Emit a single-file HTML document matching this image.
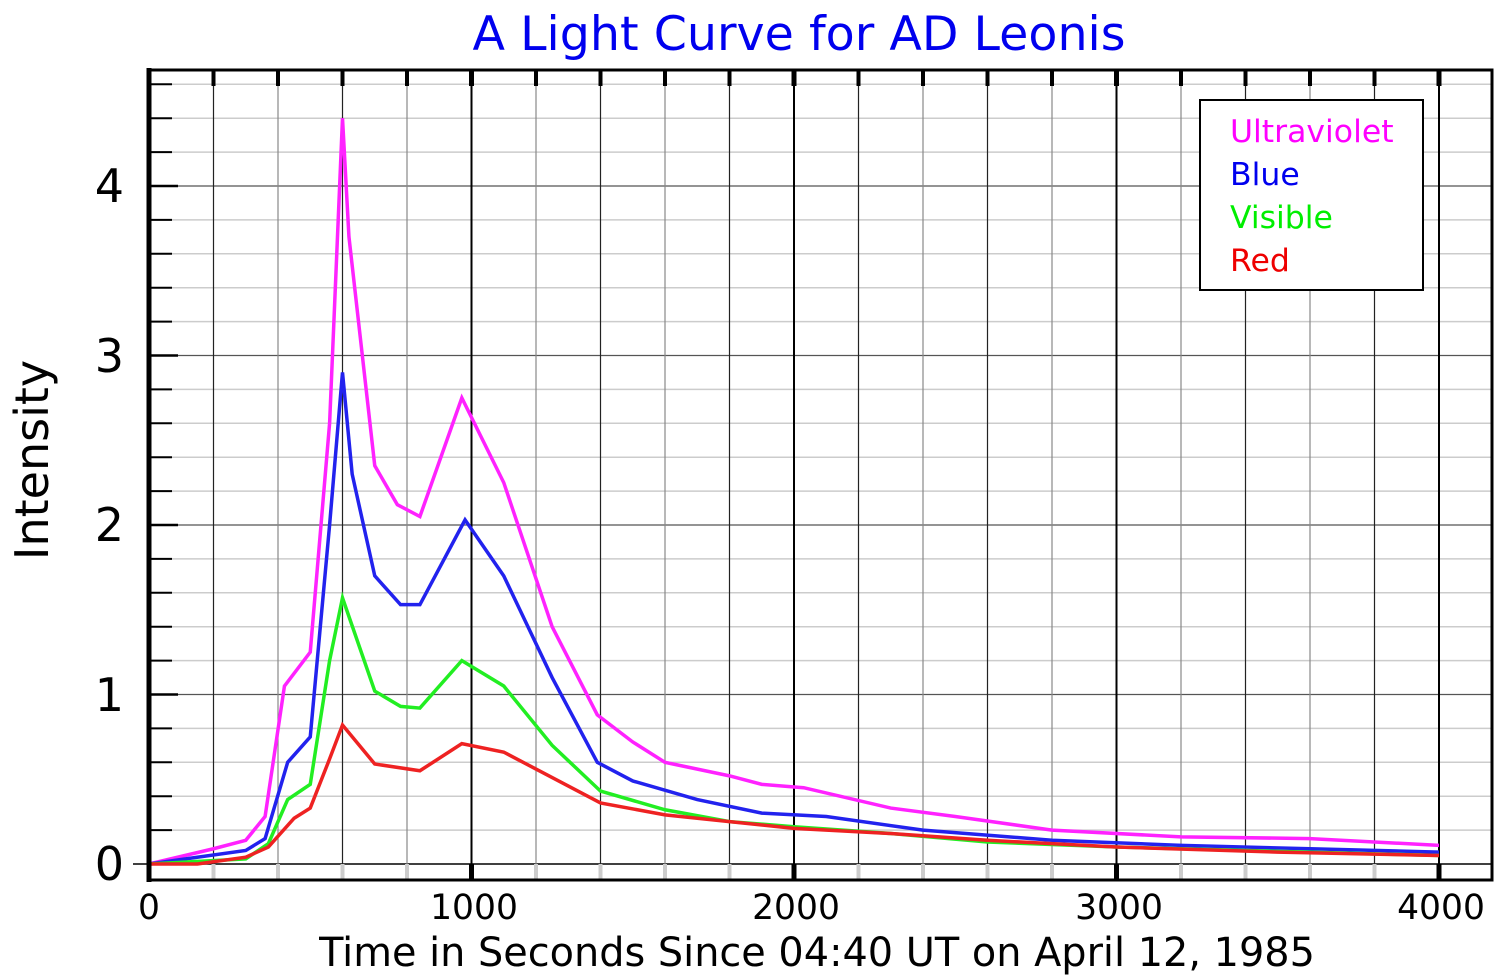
<!DOCTYPE html>
<html><head><meta charset="utf-8"><style>body{margin:0;background:#fff}svg{display:block}</style></head>
<body>
<svg id="s" width="1500" height="975" xmlns="http://www.w3.org/2000/svg" font-family="DejaVu Sans, Liberation Sans, sans-serif">
<text x="799" y="50" font-size="47.5" fill="#0000ee" text-anchor="middle">A Light Curve for AD Leonis</text>
<g id="grid"></g>
<g id="data" fill="none" stroke-width="3.5"></g>
<rect x="149" y="70" width="1343" height="810" fill="none" stroke="#000" stroke-width="3"/>
<line x1="149" y1="68" x2="149" y2="882" stroke="#000" stroke-width="5"/>
<rect x="1200" y="100" width="223" height="190" fill="#fff" stroke="#000" stroke-width="2"/>
<g font-size="31.5">
<text x="1230" y="142" fill="#ff00ff">Ultraviolet</text>
<text x="1230" y="185" fill="#0000ee">Blue</text>
<text x="1230" y="228" fill="#00ee00">Visible</text>
<text x="1230" y="271" fill="#ee0000">Red</text>
</g>
<g font-size="46" text-anchor="end" fill="#000">
<text x="124" y="880">0</text><text x="124" y="711">1</text><text x="124" y="541">2</text><text x="124" y="372">3</text><text x="124" y="202">4</text>
</g>
<g font-size="34.5" text-anchor="middle" fill="#000">
<text x="149" y="919">0</text><text x="474" y="919">1000</text><text x="796" y="919">2000</text><text x="1119" y="919">3000</text><text x="1441" y="919">4000</text>
</g>
<text x="817" y="966" font-size="39.8" text-anchor="middle">Time in Seconds Since 04:40 UT on April 12, 1985</text>
<text transform="translate(48,460) rotate(-90)" font-size="46" text-anchor="middle">Intensity</text>
</svg>
<script>
var X=t=>149+0.3225*t, Y=v=>864-169.5*v, NS="http://www.w3.org/2000/svg";
function el(p,n,a){var e=document.createElementNS(NS,n);for(var k in a)e.setAttribute(k,a[k]);p.appendChild(e);return e;}
var g=document.getElementById('grid');
for(var i=1;i<=23;i++){var v=i*0.2;if(Math.abs(v-Math.round(v))<1e-6)continue;el(g,'line',{x1:149,x2:1492,y1:Y(v),y2:Y(v),stroke:'#ccc','stroke-width':1.5});
el(g,'line',{x1:149,x2:172,y1:Y(v),y2:Y(v),stroke:'#000','stroke-width':2});}
for(var v=1;v<=4;v++){el(g,'line',{x1:149,x2:1492,y1:Y(v),y2:Y(v),stroke:'#555','stroke-width':1.2});el(g,'line',{x1:149,x2:178,y1:Y(v),y2:Y(v),stroke:'#000','stroke-width':2.5});}
el(g,'line',{x1:133,x2:1492,y1:Y(0),y2:Y(0),stroke:'#000','stroke-width':1.5});
for(var t=200;t<=4400;t+=200){var x=X(t);if(x>1490)break;var major=t%1000==0,blk=(t/200)%2==1;
el(g,'line',{x1:x,x2:x,y1:70,y2:880,stroke:major?'#000':(blk?'#222':'#888'),'stroke-width':major?2:1.2});
el(g,'line',{x1:x,x2:x,y1:70,y2:86,stroke:'#000','stroke-width':major?5:4});
el(g,'line',{x1:x,x2:x,y1:864,y2:880,stroke:major?'#000':'#ccc','stroke-width':major?5:4});}
var S={
'#ff22ff':[[0,0],[200,0.09],[300,0.14],[360,0.28],[420,1.05],[500,1.25],[560,2.6],[600,4.4],[620,3.7],[700,2.35],[770,2.12],[840,2.05],[970,2.75],[1100,2.25],[1250,1.4],[1390,0.88],[1500,0.72],[1600,0.6],[1800,0.52],[1900,0.47],[2030,0.45],[2300,0.33],[2500,0.28],[2800,0.2],[3200,0.16],[3600,0.15],[4000,0.11]],
'#2222ee':[[0,0],[300,0.08],[360,0.15],[430,0.6],[500,0.75],[560,2.0],[600,2.9],[630,2.3],[700,1.7],[780,1.53],[840,1.53],[980,2.03],[1100,1.7],[1250,1.1],[1390,0.6],[1500,0.49],[1700,0.38],[1900,0.3],[2100,0.28],[2400,0.2],[2800,0.14],[3200,0.11],[3600,0.09],[4000,0.07]],
'#22ee22':[[0,0],[300,0.03],[370,0.12],[430,0.38],[500,0.47],[560,1.2],[600,1.57],[700,1.02],[780,0.93],[840,0.92],[970,1.2],[1100,1.05],[1250,0.7],[1400,0.43],[1600,0.32],[1800,0.25],[2000,0.22],[2300,0.18],[2600,0.13],[3000,0.1],[4000,0.05]],
'#ee2222':[[0,0],[150,0],[300,0.04],[370,0.1],[450,0.27],[500,0.33],[560,0.62],[600,0.82],[700,0.59],[840,0.55],[970,0.71],[1100,0.66],[1200,0.56],[1400,0.36],[1600,0.29],[2000,0.21],[2300,0.18],[2600,0.14],[3000,0.1],[3500,0.07],[4000,0.05]]};
var d=document.getElementById('data');
for(var c in S){el(d,'polyline',{points:S[c].map(p=>X(p[0])+','+Y(p[1])).join(' '),stroke:c});}
</script>
</body></html>
